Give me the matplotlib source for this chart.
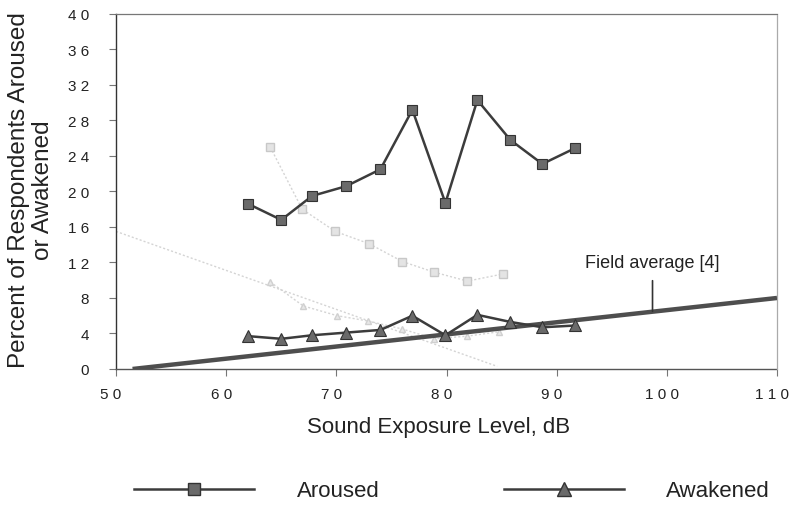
import numpy as np
import matplotlib
matplotlib.use("Agg")
import matplotlib.pyplot as plt
from matplotlib.lines import Line2D
from matplotlib.transforms import ScaledTranslation

plt.rcParams["font.family"] = ["Liberation Sans", "DejaVu Sans"]

# =========================
# DATA
# =========================

sel_aroused = [62, 65, 67.8, 70.9, 74, 76.9, 79.9, 82.8, 85.8, 88.7, 91.7]
pct_aroused = [18.6, 16.8, 19.5, 20.6, 22.5, 29.2, 18.7, 30.3, 25.8, 23.1, 24.9]

sel_awakened = [62, 65, 67.8, 70.9, 74, 76.9, 79.9, 82.8, 85.8, 88.7, 91.7]
pct_awakened = [3.7, 3.4, 3.8, 4.1, 4.4, 6.0, 3.8, 6.1, 5.3, 4.7, 4.9]

field_x = [51.5, 110]
field_y = [0.0, 8.0]

# faint print-through traces from the facing page
faint_sq_x = [64.0, 66.9, 69.9, 73.0, 76.0, 78.9, 81.9, 85.1]
faint_sq_y = [25.0, 18.0, 15.5, 14.1, 12.1, 10.9, 9.9, 10.7]
faint_tri_x = [64.0, 67.0, 70.1, 72.9, 76.0, 78.9, 81.9, 84.8]
faint_tri_y = [9.8, 7.1, 6.0, 5.4, 4.5, 3.4, 3.7, 4.2]
faint_line_x = [50, 84.6]
faint_line_y = [15.5, 0.3]

x_ticks = [50, 60, 70, 80, 90, 100, 110]
x_tick_labels = ["5 0", "6 0", "7 0", "8 0", "9 0", "1 0 0", "1 1 0"]
y_ticks = [0, 4, 8, 12, 16, 20, 24, 28, 32, 36, 40]
y_tick_labels = ["0", "4", "8", "1 2", "1 6", "2 0", "2 4", "2 8", "3 2", "3 6", "4 0"]

DARK = "#3c3c3c"
MARK = "#6a6a6a"
FAINT = "#d4d4d4"

# =========================
# PLOT
# =========================

fig = plt.figure(figsize=(7.91, 5.06), dpi=100)
ax = fig.add_axes([0.1467, 0.2688, 0.8356, 0.7016])

# faint traces underneath everything
ax.plot(faint_line_x, faint_line_y, color=FAINT, lw=1, ls=(0, (1.5, 1.5)), zorder=1)
ax.plot(faint_sq_x, faint_sq_y, color=FAINT, lw=1, ls=(0, (1.5, 1.5)),
        marker="s", ms=6, mfc="#e4e4e4", mec="#c8c8c8", zorder=1)
ax.plot(faint_tri_x, faint_tri_y, color=FAINT, lw=1, ls=(0, (1.5, 1.5)),
        marker="^", ms=5, mfc="#e8e8e8", mec="#d0d0d0", zorder=1)

ax.plot(field_x, field_y, color="#4e4e4e", lw=3.2, solid_capstyle="butt", zorder=3)

ax.plot(sel_aroused, pct_aroused, color=DARK, lw=1.8,
        marker="s", ms=7.5, mfc=MARK, mec="#333333", mew=0.8, zorder=4)
ax.plot(sel_awakened, pct_awakened, color=DARK, lw=1.8,
        marker="^", ms=8, mfc=MARK, mec="#333333", mew=0.8, zorder=4)

ax.annotate("Field average [4]", xy=(98.7, 6.5), xytext=(98.7, 12.0),
            ha="center", va="center", fontsize=13, color="#222222",
            arrowprops=dict(arrowstyle="-", color="#333333", lw=1.2,
                            shrinkA=5, shrinkB=0))

ax.set_xlim(50, 110)
ax.set_ylim(0, 40)
ax.set_xticks(x_ticks)
ax.set_xticklabels(x_tick_labels)
ax.set_yticks(y_ticks)
ax.set_yticklabels(y_tick_labels)
ax.tick_params(axis="both", direction="out", length=5, width=0.8,
               color="#777777", labelsize=11, labelcolor="#222222")
ax.tick_params(axis="y", pad=14.5)
ax.tick_params(axis="x", pad=8)

shift = ScaledTranslation(-5 / 100, 0, fig.dpi_scale_trans)
for lab in ax.get_xticklabels():
    lab.set_transform(lab.get_transform() + shift)

ax.spines["left"].set_color("#333333")
ax.spines["left"].set_linewidth(1.0)
ax.spines["bottom"].set_color("#555555")
ax.spines["bottom"].set_linewidth(1.0)
ax.spines["bottom"].set_linestyle((0, (3, 1)))
ax.spines["top"].set_color("#777777")
ax.spines["top"].set_linewidth(0.9)
ax.spines["top"].set_linestyle((0, (2, 1)))
ax.spines["right"].set_color("#aaaaaa")
ax.spines["right"].set_linewidth(0.9)
ax.spines["right"].set_linestyle((0, (1, 1)))

fig.text(31 / 791, 1 - 190 / 506, "Percent of Respondents Aroused\nor Awakened",
         rotation=90, ha="center", va="center", multialignment="center",
         fontsize=17.5, linespacing=1.1, color="#222222")
fig.text(439 / 791, 1 - 428 / 506, "Sound Exposure Level, dB",
         ha="center", va="center", fontsize=16, color="#222222")

handles = [
    Line2D([], [], color=DARK, lw=1.8, marker="s", ms=9, mfc=MARK, mec="#333333"),
    Line2D([], [], color=DARK, lw=1.8, marker="^", ms=10, mfc=MARK, mec="#333333"),
]
fig.legend(handles, ["Aroused", "Awakened"], loc="center",
           bbox_to_anchor=(452 / 791, 1 - 492 / 506), ncol=2, frameon=False,
           fontsize=16, handlelength=5.4, handletextpad=1.9, columnspacing=5.6,
           labelcolor="#222222")

fig.savefig("out.png", dpi=100)
